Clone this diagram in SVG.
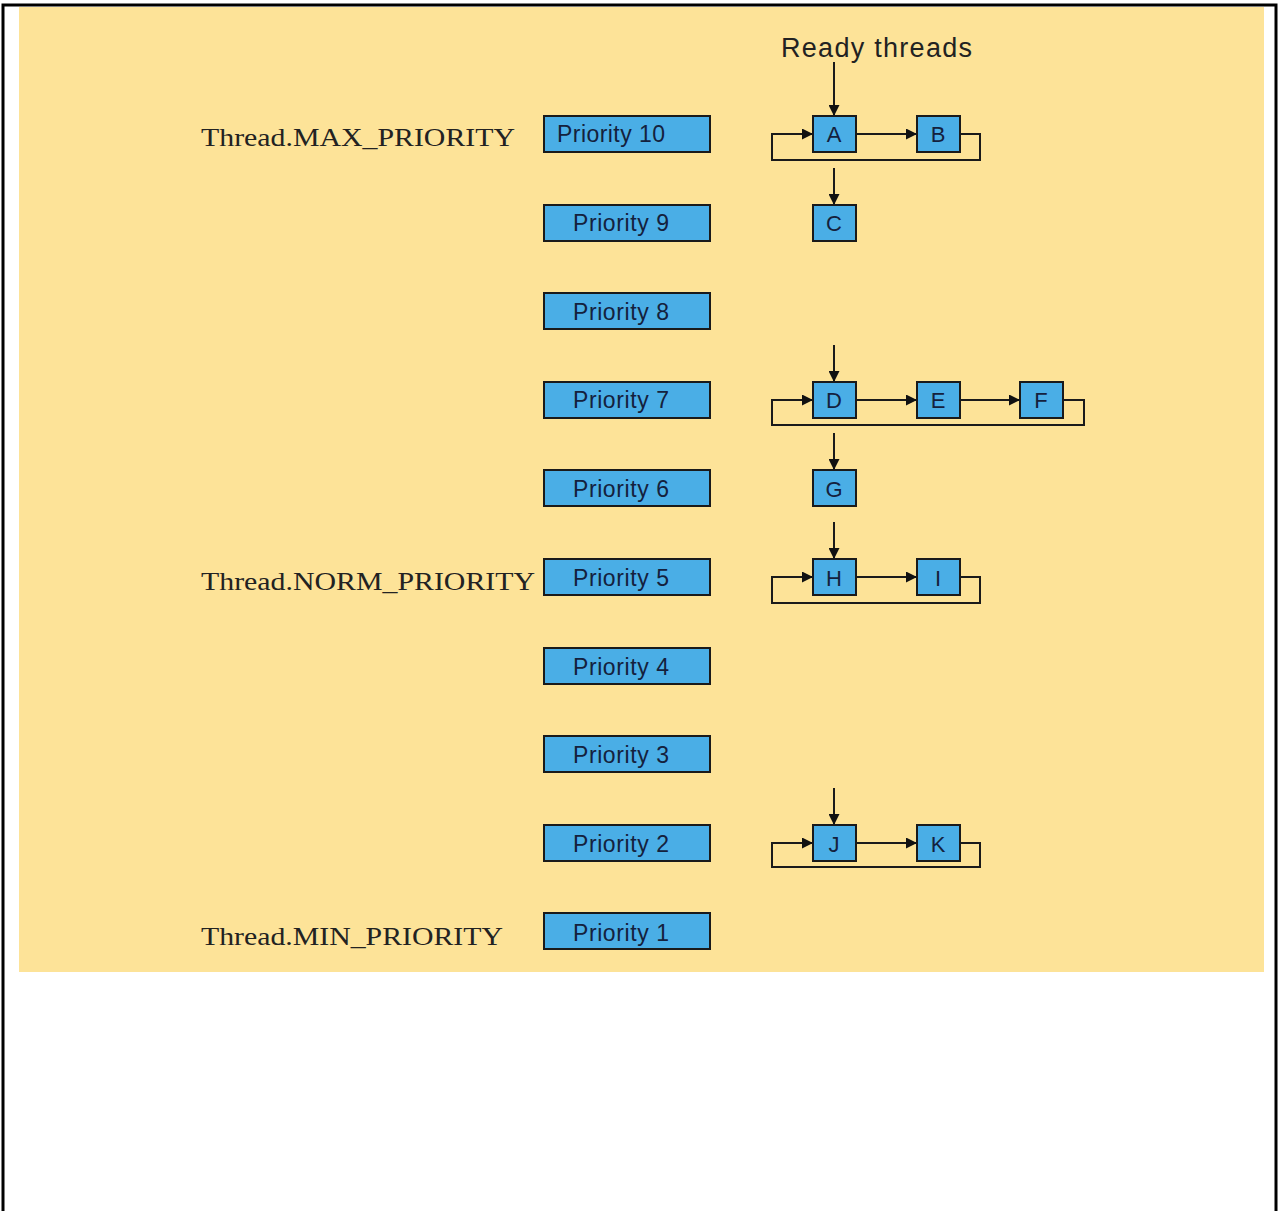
<svg xmlns="http://www.w3.org/2000/svg" width="1279" height="1211" viewBox="0 0 1279 1211">
<defs>
<marker id="ah" viewBox="0 0 10 10" refX="10" refY="5" markerWidth="11" markerHeight="11" markerUnits="userSpaceOnUse" orient="auto">
<path d="M0,0 L10,5 L0,10 z" fill="#111"/>
</marker>
<style>
.pri rect{fill:#4aaee6;stroke:#1a1a1a;stroke-width:2}
.pri text{font-family:"Liberation Sans",Arial,sans-serif;font-size:23px;fill:#14213d;text-anchor:middle}
.nd rect{fill:#4aaee6;stroke:#1a1a1a;stroke-width:2}
.nd text{font-family:"Liberation Sans",Arial,sans-serif;font-size:22px;fill:#14213d;text-anchor:middle}
.lbl{font-family:"Liberation Serif","Times New Roman",serif;font-size:25px;fill:#222}
.cn line,.cn path{stroke:#1a1a1a;stroke-width:2;fill:none}
</style>
</defs>
<rect x="0" y="0" width="1279" height="1211" fill="#fff"/>
<rect x="3" y="5" width="1273" height="1212" fill="none" stroke="#000" stroke-width="3"/>
<rect x="19" y="7" width="1245" height="965" fill="#fde398"/>
<text x="781" y="57" font-family="Liberation Sans,Arial,sans-serif" font-size="27" fill="#222" textLength="191" lengthAdjust="spacing">Ready threads</text>
<text class="lbl" x="201" y="146" textLength="314" lengthAdjust="spacingAndGlyphs">Thread.MAX_PRIORITY</text>
<text class="lbl" x="201" y="590" textLength="334" lengthAdjust="spacingAndGlyphs">Thread.NORM_PRIORITY</text>
<text class="lbl" x="201" y="945" textLength="302" lengthAdjust="spacingAndGlyphs">Thread.MIN_PRIORITY</text>
<g id="p10" class="pri"><rect x="544" y="116" width="166" height="36"/><text x="611" y="142" textLength="108">Priority 10</text></g>
<g id="p9" class="pri"><rect x="544" y="205" width="166" height="36"/><text x="621" y="231" textLength="96">Priority 9</text></g>
<g id="p8" class="pri"><rect x="544" y="293" width="166" height="36"/><text x="621" y="320" textLength="96">Priority 8</text></g>
<g id="p7" class="pri"><rect x="544" y="382" width="166" height="36"/><text x="621" y="408" textLength="96">Priority 7</text></g>
<g id="p6" class="pri"><rect x="544" y="470" width="166" height="36"/><text x="621" y="497" textLength="96">Priority 6</text></g>
<g id="p5" class="pri"><rect x="544" y="559" width="166" height="36"/><text x="621" y="586" textLength="96">Priority 5</text></g>
<g id="p4" class="pri"><rect x="544" y="648" width="166" height="36"/><text x="621" y="675" textLength="96">Priority 4</text></g>
<g id="p3" class="pri"><rect x="544" y="736" width="166" height="36"/><text x="621" y="763" textLength="96">Priority 3</text></g>
<g id="p2" class="pri"><rect x="544" y="825" width="166" height="36"/><text x="621" y="852" textLength="96">Priority 2</text></g>
<g id="p1" class="pri"><rect x="544" y="913" width="166" height="36"/><text x="621" y="941" textLength="96">Priority 1</text></g>
<g id="connectors" class="cn">
<line x1="834" y1="62" x2="834" y2="116" marker-end="url(#ah)"/>
<line x1="856" y1="134" x2="917" y2="134" marker-end="url(#ah)"/>
<path d="M960,134 H980 V160 H772 V134 H813" marker-end="url(#ah)"/>
<line x1="834" y1="168" x2="834" y2="205" marker-end="url(#ah)"/>
<line x1="834" y1="345" x2="834" y2="382" marker-end="url(#ah)"/>
<line x1="856" y1="400" x2="917" y2="400" marker-end="url(#ah)"/>
<line x1="960" y1="400" x2="1020" y2="400" marker-end="url(#ah)"/>
<path d="M1063,400 H1084 V425 H772 V400 H813" marker-end="url(#ah)"/>
<line x1="834" y1="433" x2="834" y2="470" marker-end="url(#ah)"/>
<line x1="834" y1="522" x2="834" y2="559" marker-end="url(#ah)"/>
<line x1="856" y1="577" x2="917" y2="577" marker-end="url(#ah)"/>
<path d="M960,577 H980 V603 H772 V577 H813" marker-end="url(#ah)"/>
<line x1="834" y1="788" x2="834" y2="825" marker-end="url(#ah)"/>
<line x1="856" y1="843" x2="917" y2="843" marker-end="url(#ah)"/>
<path d="M960,843 H980 V867 H772 V843 H813" marker-end="url(#ah)"/>
</g>
<g id="A" class="nd"><rect x="813" y="116" width="43" height="36"/><text x="834" y="142">A</text></g>
<g id="B" class="nd"><rect x="917" y="116" width="43" height="36"/><text x="938" y="142">B</text></g>
<g id="C" class="nd"><rect x="813" y="205" width="43" height="36"/><text x="834" y="231">C</text></g>
<g id="D" class="nd"><rect x="813" y="382" width="43" height="36"/><text x="834" y="408">D</text></g>
<g id="E" class="nd"><rect x="917" y="382" width="43" height="36"/><text x="938" y="408">E</text></g>
<g id="F" class="nd"><rect x="1020" y="382" width="43" height="36"/><text x="1041" y="408">F</text></g>
<g id="G" class="nd"><rect x="813" y="470" width="43" height="36"/><text x="834" y="497">G</text></g>
<g id="H" class="nd"><rect x="813" y="559" width="43" height="36"/><text x="834" y="586">H</text></g>
<g id="I" class="nd"><rect x="917" y="559" width="43" height="36"/><text x="938" y="586">I</text></g>
<g id="J" class="nd"><rect x="813" y="825" width="43" height="36"/><text x="834" y="852">J</text></g>
<g id="K" class="nd"><rect x="917" y="825" width="43" height="36"/><text x="938" y="852">K</text></g>
</svg>
